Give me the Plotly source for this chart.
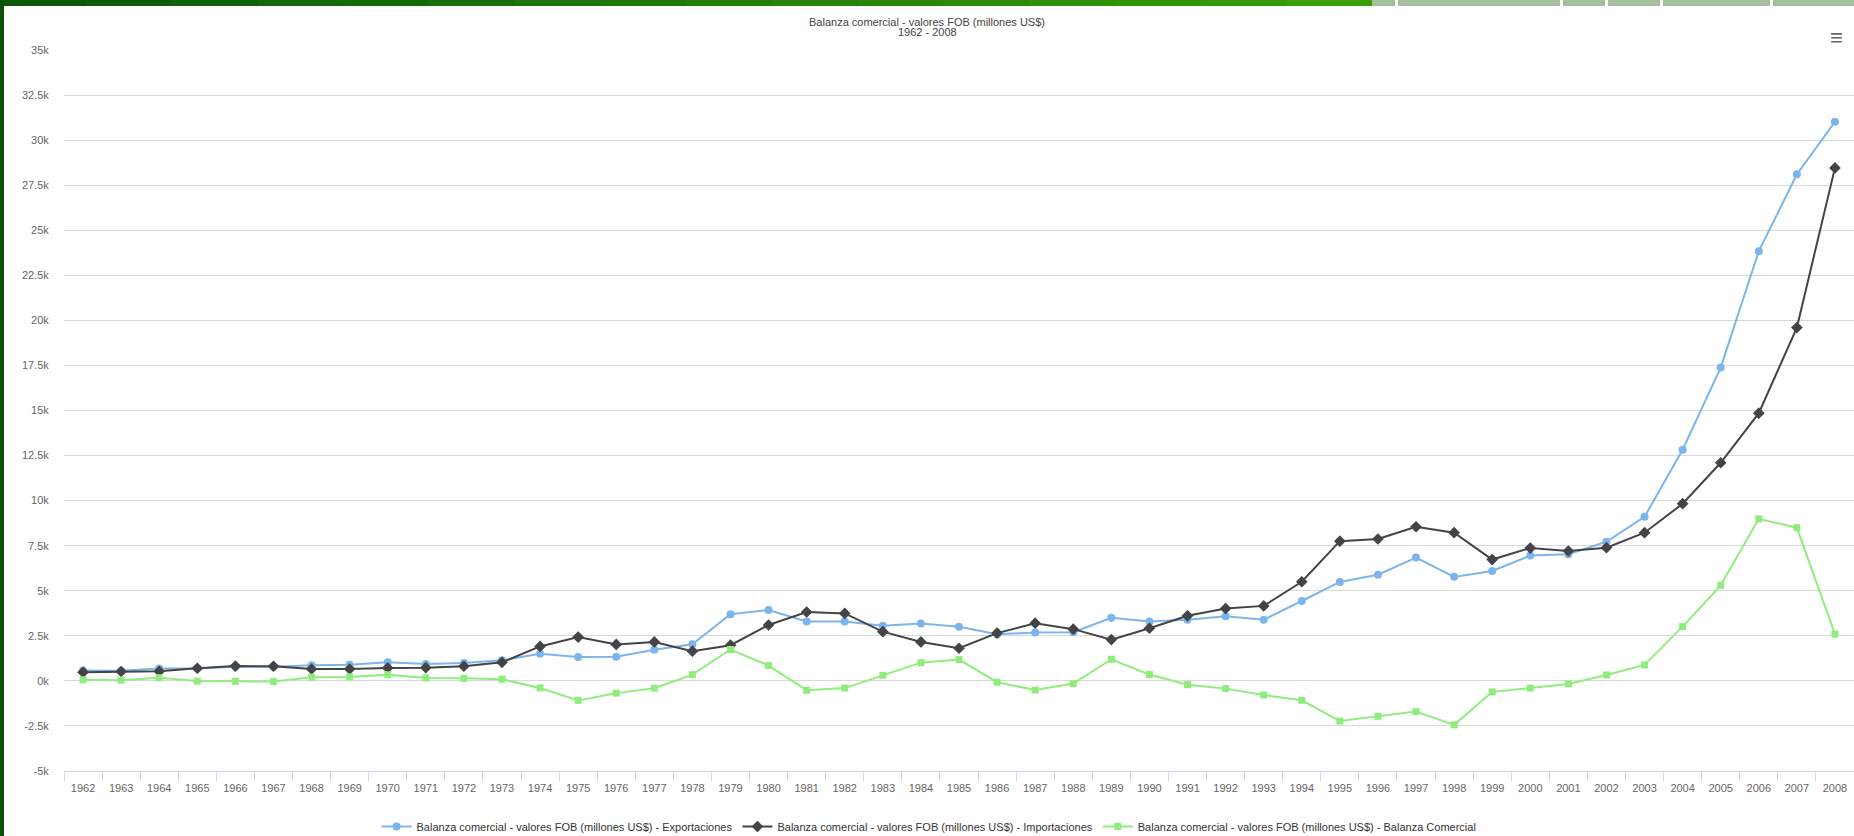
import plotly.graph_objects as go

years = [str(y) for y in range(1962, 2009)]

exportaciones = [570, 560, 690, 690, 790, 780, 870, 890, 1037, 940, 990, 1140,
                 1510, 1330, 1340, 1730, 2030, 3700, 3930, 3300, 3300, 3060,
                 3180, 3000, 2590, 2680, 2700, 3500, 3290, 3390, 3580, 3390,
                 4430, 5490, 5890, 6840, 5770, 6100, 6950, 7030, 7720, 9100,
                 12820, 17380, 23840, 28100, 31020]

importaciones = [480, 520, 530, 700, 820, 810, 660, 660, 720, 730, 810, 1030,
                 1910, 2430, 2020, 2160, 1650, 1980, 3100, 3820, 3740, 2730,
                 2160, 1810, 2650, 3200, 2870, 2290, 2920, 3610, 4010, 4160,
                 5500, 7750, 7870, 8550, 8220, 6730, 7370, 7205, 7390, 8220,
                 9830, 12100, 14850, 19600, 28460]

balanza = [60, 40, 180, -10, -20, -40, 200, 220, 340, 165, 140, 90,
           -390, -1090, -680, -410, 350, 1740, 850, -520, -400, 310,
           1010, 1180, -75, -510, -150, 1200, 350, -210, -430, -785,
           -1075, -2230, -1970, -1705, -2440, -610, -400, -170, 330, 885,
           3010, 5300, 8990, 8500, 2590]

ytick_vals = list(range(-5000, 35001, 2500))
ytick_text = ["-5k", "-2.5k", "0k", "2.5k", "5k", "7.5k", "10k", "12.5k", "15k",
              "17.5k", "20k", "22.5k", "25k", "27.5k", "30k", "32.5k", "35k"]

serie = "Balanza comercial - valores FOB (millones US$)"
title1 = "Balanza comercial - valores FOB (millones US$)"
title2 = "1962 - 2008"

# figure is slightly taller than the 836 px viewport; the extra strip is hidden
W, H = 1854, 841
L, R, T, B = 64, 0, 50, 70
PW = W - L - R
PH = H - T - B


def px_x(x):
    return (x - L) / PW


def px_y(y):
    return (H - B - y) / PH


fig = go.Figure()
fig.add_trace(go.Scatter(
    x=years, y=exportaciones, mode="lines+markers",
    name=serie + " - Exportaciones",
    line=dict(color="#7cb5ec", width=2),
    marker=dict(symbol="circle", size=8, color="#7cb5ec"),
))
fig.add_trace(go.Scatter(
    x=years, y=importaciones, mode="lines+markers",
    name=serie + " - Importaciones",
    line=dict(color="#434348", width=2),
    marker=dict(symbol="diamond", size=9, color="#434348"),
))
fig.add_trace(go.Scatter(
    x=years, y=balanza, mode="lines+markers",
    name=serie + " - Balanza Comercial",
    line=dict(color="#90ed7d", width=2),
    marker=dict(symbol="square", size=7, color="#90ed7d"),
))

shapes = []
# top banner gradient (dark green -> bright green)
dark = (11, 88, 11)
bright = (58, 158, 8)
n = 16
x_end = 1372
for i in range(n):
    x0 = i * x_end / n
    x1 = (i + 1) * x_end / n + 1
    t = i / (n - 1)
    c = tuple(int(dark[k] + (bright[k] - dark[k]) * t) for k in range(3))
    shapes.append(dict(type="rect", xref="paper", yref="paper",
                       x0=px_x(x0), x1=px_x(x1), y0=px_y(6), y1=px_y(0),
                       fillcolor="rgb(%d,%d,%d)" % c, line=dict(width=0),
                       layer="above"))
shapes.append(dict(type="rect", xref="paper", yref="paper",
                   x0=px_x(x_end), x1=px_x(W), y0=px_y(6), y1=px_y(0),
                   fillcolor="#a5bf9e", line=dict(width=0), layer="above"))
for wx in [1395, 1560, 1605, 1660, 1770]:
    shapes.append(dict(type="rect", xref="paper", yref="paper",
                       x0=px_x(wx), x1=px_x(wx + 3), y0=px_y(6), y1=px_y(0),
                       fillcolor="#ffffff", line=dict(width=0), layer="above"))
# left dark green bar
shapes.append(dict(type="rect", xref="paper", yref="paper",
                   x0=px_x(0), x1=px_x(4), y0=px_y(H), y1=px_y(0),
                   fillcolor="#0b4f0b", line=dict(width=0), layer="above"))

annotations = [
    dict(text=title1, xref="paper", yref="paper", x=px_x(W / 2), y=px_y(22),
         showarrow=False, xanchor="center", yanchor="middle",
         font=dict(size=11, color="#444")),
    dict(text=title2, xref="paper", yref="paper", x=px_x(W / 2), y=px_y(32),
         showarrow=False, xanchor="center", yanchor="middle",
         font=dict(size=11, color="#444")),
    dict(text="≡", xref="paper", yref="paper", x=px_x(1836), y=px_y(37),
         showarrow=False, xanchor="center", yanchor="middle",
         font=dict(size=22, color="#666")),
]

fig.update_layout(
    width=W, height=H,
    margin=dict(l=L, r=R, t=T, b=B, pad=0),
    paper_bgcolor="#ffffff", plot_bgcolor="#ffffff",
    font=dict(family="Liberation Sans, Arial, sans-serif", size=11, color="#666"),
    showlegend=True,
    legend=dict(orientation="h", x=px_x(929), xanchor="center",
                y=px_y(H), yanchor="bottom",
                font=dict(size=11, color="#333"), itemwidth=30,
                bgcolor="rgba(0,0,0,0)", traceorder="normal"),
    shapes=shapes,
    annotations=annotations,
    hovermode="x",
)
fig.update_xaxes(
    type="category", range=[-0.5, len(years) - 0.5],
    showgrid=False, zeroline=False, automargin=False,
    showline=True, linecolor="#ccd6eb", linewidth=1,
    ticks="outside", tickson="boundaries", ticklen=9, tickcolor="#ccd6eb",
    ticklabelstandoff=7,
    tickfont=dict(size=11, color="#666"), tickangle=0,
)
fig.update_yaxes(
    range=[-5000, 35000], tickvals=ytick_vals, ticktext=ytick_text,
    showgrid=True, gridcolor="#d9d9d9", gridwidth=1, automargin=False,
    zeroline=False, showline=False,
    ticks="outside", ticklen=12, tickcolor="rgba(0,0,0,0)",
    tickfont=dict(size=11, color="#666"),
)

fig.write_html(
    "out.html",
    config={"displayModeBar": False},
    post_script="document.body.style.margin='0';document.body.style.padding='0';"
                "document.body.style.overflow='hidden';"
                "document.documentElement.style.overflow='hidden';",
)
